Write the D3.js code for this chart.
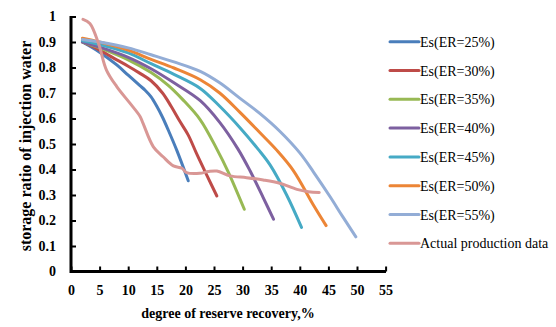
<!DOCTYPE html>
<html><head><meta charset="utf-8">
<script src="https://cdn.jsdelivr.net/npm/d3@7"></script>
<style>body{margin:0;background:#fff}svg{display:block}text{font-family:"Liberation Serif","Times New Roman",serif}</style>
</head><body><svg id="c" width="556" height="327"></svg>
<script>
const seriesNames = ["Es(ER=25%)","Es(ER=30%)","Es(ER=35%)","Es(ER=40%)","Es(ER=45%)","Es(ER=50%)","Es(ER=55%)","Actual production data"];
const seriesColors = ["#4A7EBB","#BE4B48","#98B954","#7D60A0","#46AAC5","#EC8536","#93ADD6","#D99795"];
const xTicks = [0,5,10,15,20,25,30,35,40,45,50,55];
const yTicks = [0,0.1,0.2,0.3,0.4,0.5,0.6,0.7,0.8,0.9,1];

const es25x = [2,5,8,10,12,13,14,15,16,17,18.5,20.5];
const es25y = [0.9,0.86,0.81,0.77,0.73,0.71,0.685,0.648,0.605,0.555,0.475,0.356];
const es30x = [2,5,8,10,12,14,16,17.5,19,20.5,22,23.8,25.5];
const es30y = [0.9,0.868,0.83,0.805,0.778,0.748,0.70,0.648,0.59,0.535,0.46,0.375,0.296];
const es35x = [2,5,10,14,17,19.5,22.6,25.5,27.5,30.3];
const es35y = [0.9,0.877,0.83,0.78,0.73,0.675,0.595,0.48,0.39,0.244];
const es40x = [2,5,10,14,18,22.6,26,29.2,31.3,33.6,35.4];
const es40y = [0.9,0.88,0.84,0.795,0.74,0.67,0.585,0.48,0.395,0.29,0.205];
const es45x = [2,5,10,14,18,22.6,26,29.5,32.7,34.8,37.7,40.3];
const es45y = [0.905,0.89,0.857,0.815,0.773,0.718,0.648,0.565,0.48,0.418,0.3,0.173];
const es50x = [2,5,10,14,18,22.6,26,29.5,33,36,38.9,42.4,44.6];
const es50y = [0.915,0.9,0.868,0.832,0.798,0.752,0.70,0.625,0.545,0.475,0.395,0.26,0.18];
const es55x = [2,5,10,14,18,22.6,26,29.5,33,36.5,40,42.4,45.3,47.5,49.8];
const es55y = [0.91,0.9,0.877,0.85,0.822,0.785,0.74,0.68,0.62,0.55,0.465,0.39,0.293,0.215,0.136];
const actualX = [2.1,3.3,4.8,6.2,8,10.3,12.1,12.6,14.4,16.1,17.9,19.4,20.2,22.5,24,25.5,27.8,30.7,33.6,36.5,39.5,41.5,43.4];
const actualY = [0.989,0.973,0.895,0.79,0.725,0.66,0.607,0.581,0.489,0.45,0.414,0.405,0.388,0.385,0.392,0.394,0.375,0.368,0.359,0.346,0.322,0.313,0.31];

const allX = [es25x,es30x,es35x,es40x,es45x,es50x,es55x,actualX];
const allY = [es25y,es30y,es35y,es40y,es45y,es50y,es55y,actualY];

const svg = d3.select("#c");
const x = d3.scaleLinear().domain([0,55]).range([71,385.6]);
const y = d3.scaleLinear().domain([0,1]).range([271.5,16.5]);

const line = d3.line().x(d=>x(d[0])).y(d=>y(d[1])).curve(d3.curveCatmullRom.alpha(0.5));
allX.forEach((xs,i)=>{
  const pts = xs.map((v,j)=>[v,allY[i][j]]);
  svg.append("path").attr("d",line(pts)).attr("fill","none")
    .attr("stroke",seriesColors[i]).attr("stroke-width",3).attr("stroke-linecap","round");
});

const xAxis = svg.append("g").attr("transform","translate(0,271.5)")
  .call(d3.axisBottom(x).tickValues(xTicks).tickSizeInner(-5).tickSizeOuter(0).tickPadding(14));
const yAxis = svg.append("g").attr("transform","translate(71,0)")
  .call(d3.axisLeft(y).tickValues(yTicks).tickSizeInner(-5).tickSizeOuter(0).tickPadding(15).tickFormat(d3.format("~g")));
[xAxis,yAxis].forEach(g=>{
  g.attr("font-family",null);
  g.select(".domain").attr("stroke","#000").attr("stroke-width",3);
  g.selectAll(".tick line").attr("stroke","#000").attr("stroke-width",2);
  g.selectAll(".tick text").attr("fill","#000").attr("font-weight","bold").attr("font-size","14px");
});
xAxis.selectAll(".domain").attr("d","M71,0H386");
yAxis.selectAll(".domain").attr("d","M0,16V273");

svg.append("text").attr("x",228).attr("y",318).attr("text-anchor","middle")
  .attr("font-weight","bold").attr("font-size","14px")
  .text("degree of reserve recovery,%");
svg.append("text").attr("transform","translate(31,146) rotate(-90)").attr("text-anchor","middle")
  .attr("font-weight","bold").attr("font-size","16px")
  .text("storage ratio of injection water");

const lg = svg.append("g");
seriesNames.forEach((n,i)=>{
  const yy = 41.7 + i*28.8;
  lg.append("line").attr("x1",390).attr("x2",419).attr("y1",yy).attr("y2",yy)
    .attr("stroke",seriesColors[i]).attr("stroke-width",3).attr("stroke-linecap","round");
  lg.append("text").attr("x",420).attr("y",yy+5).attr("font-size","14px").attr("fill","#000").text(n);
});
</script></body></html>
